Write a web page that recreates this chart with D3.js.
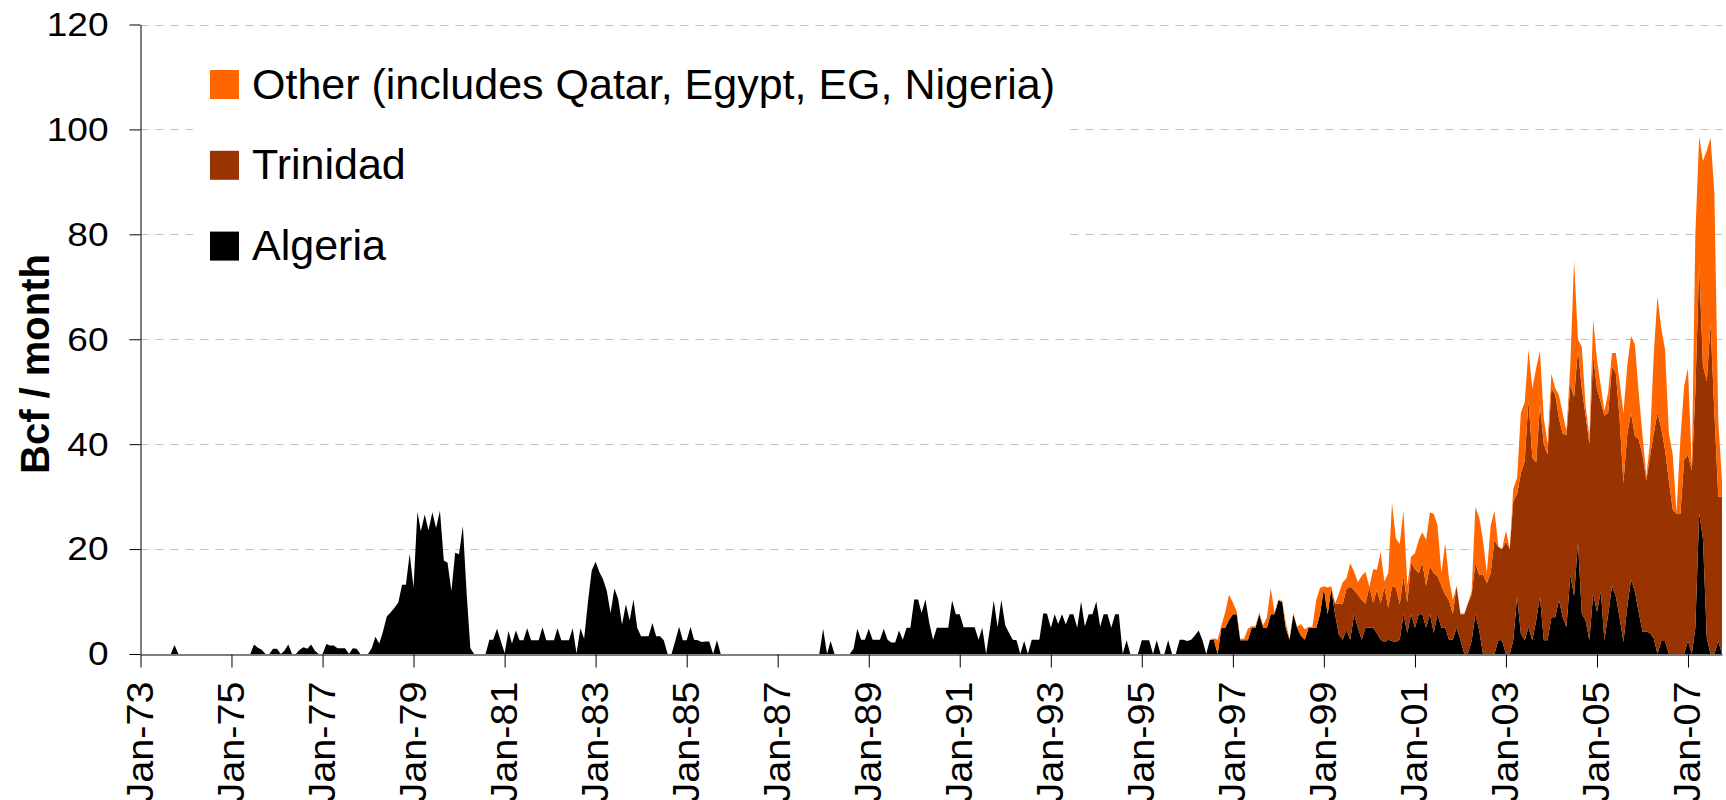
<!DOCTYPE html>
<html>
<head>
<meta charset="utf-8">
<script src="https://cdn.jsdelivr.net/npm/d3@7"></script>
<style>
  body { margin: 0; background: #fff; }
  svg { display: block; }
  text { font-family: "Liberation Sans", Arial, sans-serif; fill: #000; }
</style>
</head>
<body>
<svg width="1726" height="800"></svg>
<script>
// monthly LNG imports, Bcf / month, first month Jan-73
var startDate = new Date(1973, 0, 1);

// Algeria, one row per year (1973 .. 2007)
var algeria = [
  0,0,0,0,0,0,0,0,0,1.7,0,0,
  0,0,0,0,0,0,0,0,0,0,0,0,
  0,0,0,0,0,0,1.8,1.2,0.8,0,0,1.0,
  1.0,0,0.6,1.8,0,0,0.8,1.3,1.0,1.8,0.6,0,
  0,1.9,1.6,1.6,1.1,1.1,1.1,0,1.1,1.0,0,0,
  0,1.2,3.3,2.0,4.3,7.2,7.9,8.8,9.8,13.2,13.2,19.1,
  12.7,27.1,23.4,26.6,23.6,27.0,24.0,27.3,17.8,17.4,12.0,19.3,
  19.0,24.4,12.0,1.1,0,0,0,0,2.7,2.7,4.8,2.5,
  0.2,4.4,2.0,4.5,2.6,2.6,4.9,2.6,2.6,2.6,5.1,2.6,
  2.6,2.6,4.9,2.6,2.6,2.6,4.9,0.1,4.9,2.9,10.0,15.9,
  17.6,15.6,14.3,12.0,7.8,12.5,10.5,5.6,9.5,6.4,10.4,5.0,
  3.4,3.4,3.4,5.9,3.4,3.4,2.6,0,0,2.5,5.2,2.6,
  2.6,5.2,2.7,2.6,2.3,2.4,2.4,0,2.6,0,0,0,
  0,0,0,0,0,0,0,0,0,0,0,0,
  0,0,0,0,0,0,0,0,0,0,0,0,
  4.8,0,2.5,0,0,0,0,0,1.0,4.8,2.7,2.7,
  4.8,2.7,2.7,2.7,4.8,2.7,2.2,2.2,4.5,2.7,5.0,5.0,
  10.4,10.4,7.8,10.4,6.0,2.7,5.0,5.0,5.0,5.0,10.2,7.6,
  7.6,5.1,5.1,5.1,5.1,2.7,5.0,0,5.0,10.2,5.1,10.3,
  5.5,4.0,2.7,2.6,0,2.5,0,2.7,2.7,2.7,7.7,7.7,
  5.0,7.6,5.7,7.6,5.6,7.6,7.6,5.0,10.0,5.3,7.6,7.6,
  10.0,5.2,7.6,7.6,5.0,7.6,7.6,0,2.6,0,0,0,
  2.6,2.6,2.6,0,2.6,0,0,2.6,0,0,2.7,2.7,
  2.5,2.7,3.5,4.5,2.7,0,2.7,2.7,0,5.0,5.0,6.5,
  7.6,7.6,2.6,2.6,2.6,5.0,5.0,7.6,5.0,5.0,7.6,7.6,
  10.2,9.9,5.0,2.7,7.6,5.0,3.5,2.7,5.0,5.0,5.0,7.6,
  12.5,7.6,12.5,7.6,3.7,2.7,4.6,2.7,7.6,5.0,2.7,5.0,
  5.0,5.0,4.0,2.7,2.3,2.7,2.5,2.3,2.7,7.6,4.0,7.6,
  5.0,7.6,7.6,5.0,7.6,4.0,7.6,5.0,5.0,2.7,2.7,5.0,
  2.7,0,0,2.5,7.6,4.5,0,0,0,0,2.6,2.6,
  0,0,2.6,10.9,3.8,2.6,5.1,2.6,6.4,10.9,2.6,2.6,
  7.0,7.0,10.3,7.0,5.1,15.1,11.0,21.3,7.7,6.4,2.6,11.5,
  8.0,12.0,2.6,7.6,13.0,11.0,7.0,2.3,9.0,14.2,11.9,8.0,
  4.3,4.3,4.0,3.0,0,2.5,2.5,0,0,0,0,0,
  2.5,0,5.0,26.8,22.0,3.0,0,0,2.5,0
];

// Trinidad, rows from Jan-99
var trinidadFrom = new Date(1999, 0, 1);
var trinidad = [
  0,0,0,2.0,5.9,6.8,7.8,10.1,4.6,6.3,7.6,4.6,
  7.8,4.7,8.2,7.0,10.5,6.1,10.3,10.4,6.8,7.2,5.8,9.8,
  11.2,7.8,9.8,8.0,9.2,11.4,7.2,8.0,6.3,7.6,4.9,8.0,
  4.9,7.6,9.6,8.8,9.8,10.5,15.2,13.5,15.5,21.8,17.7,17.4,
  21.4,20.0,26.5,19.6,30.7,34.2,43.3,34.8,30.1,36.5,37.4,35.5,
  43.6,42.4,34.7,35.0,36.6,36.2,38.0,36.7,42.9,39.1,37.4,45.5,
  42.5,36.0,42.8,38.4,41.8,42.5,38.0,30.3,33.0,31.8,29.6,33.0,
  33.7,28.7,33.5,39.0,46.0,40.5,36.4,33.0,27.5,26.7,26.7,37.0,
  35.5,35.0,45.0,47.7,33.0,49.0,63.0,46.0,27.5,30.0
];

// Other (Qatar, Egypt, EG, Nigeria...), rows from Jan-96
var otherFrom = new Date(1996, 0, 1);
var other = [
  0,0,0,0,0,0,0,0.3,2.7,0.5,3.0,4.8,
  2.2,0.5,0.3,0.3,2.2,0.3,0.3,0.3,0.5,2.0,5.0,0.3,
  0.2,0.2,1.0,0.2,0.2,0.2,2.2,2.0,0.2,0.2,5.3,5.0,
  0.4,5.1,0.4,0,1.9,4.2,2.0,4.5,3.5,2.4,4.6,6.1,
  0,6.5,3.8,9.7,1.0,6.7,16.0,9.3,11.5,12.5,3.2,1.2,
  3.0,6.4,5.8,8.8,10.2,11.3,9.8,2.5,9.8,4.2,2.7,0,
  0.1,0.1,0,0.7,10.6,11.0,6.5,2.0,9.0,5.5,0.3,0,
  2.1,0,2.4,3.1,11.5,11.2,9.6,13.2,18.0,10.4,5.0,2.0,
  2.8,1.2,4.4,3.8,0.8,3.9,26.0,2.0,7.9,1.9,1.5,6.8,
  5.5,3.0,0.9,4.0,2.6,3.9,7.0,13.3,13.0,14.6,17.5,9.0,
  3.7,1.0,2.5,15.0,22.2,19.0,19.1,9.0,10.5,0.3,14.3,14.0,
  16.5,0.5,30.0,24.2,39.0,44.0,35.4,41.9,14.6,3.0
];

var seriesKeys = ["algeria", "trinidad", "other"];
var seriesLabels = {
  other: "Other (includes Qatar, Egypt, EG, Nigeria)",
  trinidad: "Trinidad",
  algeria: "Algeria"
};
var seriesColors = { algeria: "#000000", trinidad: "#993300", other: "#ff6600" };
var yTicks = [0, 20, 40, 60, 80, 100, 120];

var trinidadOffset = d3.timeMonth.count(startDate, trinidadFrom);
var otherOffset = d3.timeMonth.count(startDate, otherFrom);

var rows = algeria.map(function(v, i) {
  return {
    date: d3.timeMonth.offset(startDate, i),
    algeria: v,
    trinidad: i >= trinidadOffset ? trinidad[i - trinidadOffset] : 0,
    other: i >= otherOffset ? other[i - otherOffset] : 0
  };
});

var svg = d3.select("svg");

var x = d3.scaleTime()
  .domain([startDate, rows[rows.length - 1].date])
  .range([140.5, 1722]);

var y = d3.scaleLinear()
  .domain([0, 120])
  .range([654, 24.5]);

// dashed gridlines
svg.append("g")
  .selectAll("line")
  .data(yTicks.filter(function(d) { return d > 0; }))
  .enter().append("line")
  .attr("x1", 140.5)
  .attr("x2", 1722)
  .attr("y1", function(d) { return Math.round(y(d)) + 0.5; })
  .attr("y2", function(d) { return Math.round(y(d)) + 0.5; })
  .attr("stroke", "#c0c0c0")
  .attr("stroke-width", 1)
  .attr("stroke-dasharray", "8,7");

// stacked areas
var stacked = d3.stack().keys(seriesKeys)(rows);

var area = d3.area()
  .x(function(d) { return x(d.data.date); })
  .y0(function(d) { return y(d[0]); })
  .y1(function(d) { return y(d[1]); });

svg.append("g")
  .selectAll("path")
  .data(stacked)
  .enter().append("path")
  .attr("d", area)
  .attr("fill", function(d) { return seriesColors[d.key]; });

// y axis (labels a little wide, like the original)
var yAxis = svg.append("g")
  .attr("transform", "translate(140.5,0)")
  .call(d3.axisLeft(y).tickValues(yTicks).tickSize(11).tickSizeOuter(0));
yAxis.selectAll("line,path").attr("stroke", "#000");
yAxis.selectAll("text")
  .style("font-size", "34px")
  .attr("fill", "#000")
  .attr("x", 0)
  .attr("transform", "translate(-32,0) scale(1.09,1)");

// x axis, a tick every two years
var xTicks = d3.range(0, rows.length, 24).map(function(m) { return d3.timeMonth.offset(startDate, m); });
var xAxis = svg.append("g")
  .attr("transform", "translate(0,654.5)")
  .call(d3.axisBottom(x).tickValues(xTicks).tickFormat(d3.timeFormat("%b-%y")).tickSize(13).tickSizeOuter(0));
xAxis.selectAll("line,path").attr("stroke", "#000");
xAxis.selectAll("text")
  .style("font-size", "37px")
  .attr("fill", "#000")
  .attr("transform", "translate(-1,27) rotate(-90) scale(1.07,1)")
  .attr("text-anchor", "end")
  .attr("x", 0)
  .attr("y", 0)
  .attr("dy", "0.35em");

// y title
svg.append("text")
  .attr("transform", "translate(49,364) rotate(-90)")
  .attr("text-anchor", "middle")
  .style("font-size", "40px")
  .style("font-weight", "bold")
  .text("Bcf / month");

// legend on a white box
var legend = svg.append("g");
legend.append("rect")
  .attr("x", 193).attr("y", 45)
  .attr("width", 874).attr("height", 255)
  .attr("fill", "#fff");

var legendItem = legend.selectAll("g.item")
  .data(["other", "trinidad", "algeria"])
  .enter().append("g")
  .attr("class", "item")
  .attr("transform", function(d, i) { return "translate(210," + (70 + i * 80.8) + ")"; });

legendItem.append("rect")
  .attr("width", 29).attr("height", 29)
  .attr("fill", function(d) { return seriesColors[d]; });

legendItem.append("text")
  .attr("x", 42)
  .attr("y", 28.5)
  .style("font-size", "43px")
  .text(function(d) { return seriesLabels[d]; });
</script>
</body>
</html>
